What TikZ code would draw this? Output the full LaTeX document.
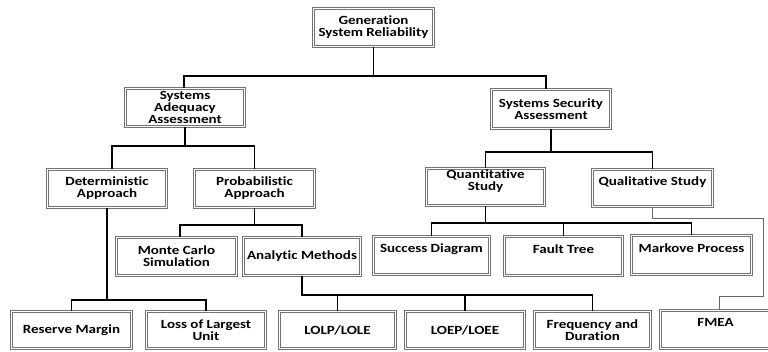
\documentclass[tikz,border=0pt]{standalone}
\usepackage{fontspec}
\newfontfamily\boxfont{Carlito}[FakeStretch=1.2, Ligatures=NoCommon]
\newcommand\mkbox[7]{\node[box, minimum width={#4-#2-3}, minimum height={#5-#3-3}, #7] (#1) at ({(#2+#4)/2},{(#3+#5)/2}) {#6};}
\begin{document}
\begin{tikzpicture}[x=1pt,y=-1pt,
  box/.style={draw=black!55, double=white, line width=0.8pt, double distance=1.4pt,
    align=center, inner sep=0pt,
    font=\boxfont\bfseries\fontsize{12.5}{12}\selectfont},
  txtup/.style={text depth=#1},
  wire/.style={line width=1.5pt, black},
  thinwire/.style={line width=0.7pt, black!60}]
\clip (0,0) rectangle (768,352);
\fill[white] (0,0) rectangle (768,352);
% boxes
\mkbox{top}{312}{7}{435}{48}{Generation\\System Reliability}{}
\mkbox{adeq}{124}{87}{246}{128}{Systems\\Adequacy\\Assessment}{}
\mkbox{sec}{490}{88}{612}{130}{Systems Security\\Assessment}{}
\mkbox{det}{46}{168}{168}{209}{Deterministic\\Approach}{}
\mkbox{prob}{193}{168}{316}{209}{Probabilistic\\Approach}{}
\mkbox{quant}{425}{167}{546}{207}{Quantitative\\Study}{txtup=14pt}
\mkbox{qual}{591}{168}{714}{208}{Qualitative Study}{txtup=14.5pt}
\mkbox{monte}{115}{236}{238}{277}{Monte Carlo\\Simulation}{}
\mkbox{anal}{242}{236}{362}{277}{Analytic Methods}{}
\mkbox{succ}{372}{235}{491}{276}{Success Diagram}{txtup=15.5pt}
\mkbox{fault}{503}{235}{624}{277}{Fault Tree}{txtup=14pt}
\mkbox{markov}{630}{234}{753}{276}{Markove Process}{txtup=14pt}
\mkbox{reserve}{10}{310}{133}{350}{Reserve Margin}{}
\mkbox{loss}{145}{310}{267}{350}{Loss of Largest\\Unit}{}
\mkbox{lolp}{278}{310}{397}{350}{LOLP/LOLE}{}
\mkbox{loep}{404}{310}{526}{350}{LOEP/LOEE}{}
\mkbox{freq}{533}{310}{652}{350}{Frequency and\\Duration}{}
\mkbox{fmea}{659}{309}{772}{350}{FMEA}{txtup=14pt}
% connectors
\draw[wire] (top.south) -- (top.south |- 0,76);
\draw[wire] ([xshift=-1pt]adeq.north) |- (top.south |- 0,76) -| ([xshift=-5pt]sec.north);
\draw[wire] (adeq.south) -- (adeq.south |- 0,146);
\draw[wire] ([xshift=5pt]det.north) |- (adeq.south |- 0,146) -| (prob.north);
\draw[wire] (sec.south) -- (sec.south |- 0,152);
\draw[wire] (quant.north) |- (sec.south |- 0,152) -| (qual.north);
\draw[wire] (prob.south) -- (prob.south |- 0,225);
\draw[wire] ([xshift=3.5pt]monte.north) |- (prob.south |- 0,225) -| (anal.north);
\draw[wire] (quant.south) -- (quant.south |- 0,223);
\draw[wire] (succ.north) |- (quant.south |- 0,223) -| (markov.north);
\draw[wire] (fault.north) -- (fault.north |- 0,223);
\draw[wire] (det.south) -- (det.south |- 0,300);
\draw[wire] (reserve.north) |- (det.south |- 0,300) -| (loss.north);
\draw[wire] (anal.south) |- (freq.north |- 0,295) -- (freq.north);
\draw[wire] (lolp.north) -- (lolp.north |- 0,295);
\draw[wire] (loep.north) -- (loep.north |- 0,295);
\coordinate (qbend) at (763,218);
\draw[thinwire] (qual.south) |- (qbend) |- ([xshift=3.5pt]fmea.north |- 0,296) -- ([xshift=3.5pt]fmea.north);
\end{tikzpicture}
\end{document}
